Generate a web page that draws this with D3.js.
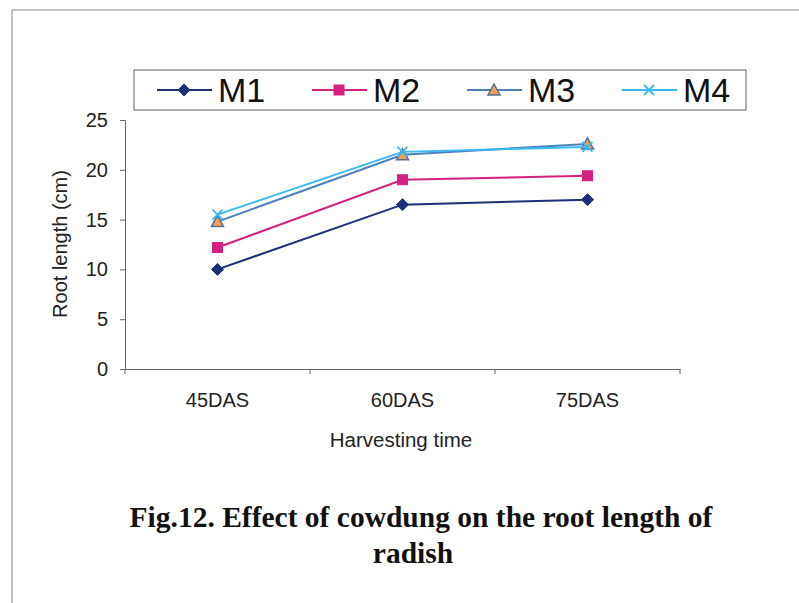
<!DOCTYPE html>
<html><head><meta charset="utf-8">
<script src="https://cdn.jsdelivr.net/npm/d3@7"></script>
<style>body{margin:0;background:#fff}svg{display:block}</style>
</head><body>
<svg id="c" width="799" height="603"></svg>
<script>
const categories = ["45DAS", "60DAS", "75DAS"];
const seriesNames = ["M1", "M2", "M3", "M4"];
const M1 = [10.0, 16.5, 17.0];
const M2 = [12.2, 19.0, 19.4];
const M3 = [14.8, 21.5, 22.6];
const M4 = [15.5, 21.8, 22.3];
const yTicks = [0, 5, 10, 15, 20, 25];

const values = [M1, M2, M3, M4];
const lineColors = ["#1c2f78", "#d4217f", "#4a7fc0", "#39b9f0"];
const markers = ["diamond", "square", "triangle", "cross"];

const svg = d3.select("#c");
// outer frame
svg.append("rect").attr("x", 12).attr("y", 10).attr("width", 800).attr("height", 620)
  .attr("fill", "none").attr("stroke", "#9a9a9a").attr("stroke-width", 1.2);

const x = d3.scaleBand().domain(categories).range([125, 680]).padding(0);
const y = d3.scaleLinear().domain([0, 25]).range([369, 120]);

const font = "Liberation Sans, Arial, sans-serif";

// y axis
const yAxis = svg.append("g").attr("transform", "translate(125,0)")
  .call(d3.axisLeft(y).tickValues(yTicks).tickSize(5).tickPadding(12));
yAxis.select(".domain").attr("stroke", "#666");
yAxis.selectAll(".tick line").attr("stroke", "#666");
yAxis.selectAll("text").attr("font-family", font).attr("font-size", 20).attr("fill", "#222");

// x axis
const xAxis = svg.append("g").attr("transform", "translate(0,369)")
  .call(d3.axisBottom(x).tickSize(0).tickPadding(24).tickSizeOuter(0));
xAxis.select(".domain").attr("stroke", "#666");
xAxis.selectAll("text").attr("font-family", font).attr("font-size", 20).attr("fill", "#222");
// tick marks at band boundaries
const bounds = categories.map(c => x(c)).concat([x.range()[1]]);
svg.append("g").selectAll("line").data(bounds).join("line")
  .attr("x1", d => d).attr("x2", d => d).attr("y1", 369).attr("y2", 374)
  .attr("stroke", "#666");

// axis titles
svg.append("text").attr("x", 401).attr("y", 447).attr("text-anchor", "middle")
  .attr("font-family", font).attr("font-size", 20.5).attr("fill", "#222").text("Harvesting time");
svg.append("text").attr("transform", "translate(67,244) rotate(-90)").attr("text-anchor", "middle")
  .attr("font-family", font).attr("font-size", 20).attr("fill", "#222").text("Root length (cm)");

function drawMarker(g, type, cx, cy, color) {
  if (type === "diamond") {
    g.append("path").attr("d", `M${cx},${cy-6}L${cx+6},${cy}L${cx},${cy+6}L${cx-6},${cy}Z`)
      .attr("fill", color).attr("stroke", color);
  } else if (type === "square") {
    g.append("rect").attr("x", cx-5).attr("y", cy-5).attr("width", 10).attr("height", 10)
      .attr("fill", color).attr("stroke", color);
  } else if (type === "triangle") {
    g.append("path").attr("d", `M${cx},${cy-6}L${cx+6},${cy+5}L${cx-6},${cy+5}Z`)
      .attr("fill", "#f6a04d").attr("stroke", "#556f99").attr("stroke-width", 1.5);
  } else {
    g.append("path").attr("d", `M${cx-5},${cy-5}L${cx+5},${cy+5}M${cx-5},${cy+5}L${cx+5},${cy-5}`)
      .attr("stroke", color).attr("stroke-width", 1.8);
  }
}

const line = d3.line().x((d, i) => x(categories[i]) + x.bandwidth() / 2).y(d => y(d));
values.forEach((vals, si) => {
  const g = svg.append("g");
  g.append("path").attr("d", line(vals)).attr("fill", "none")
    .attr("stroke", lineColors[si]).attr("stroke-width", 2);
  vals.forEach((v, i) => drawMarker(g, markers[si], x(categories[i]) + x.bandwidth() / 2, y(v), lineColors[si]));
});

// legend
svg.append("rect").attr("x", 134).attr("y", 70).attr("width", 612).attr("height", 40)
  .attr("fill", "#fff").attr("stroke", "#777").attr("stroke-width", 1.2);
const legendX = [157, 312, 467, 622];
seriesNames.forEach((n, i) => {
  const g = svg.append("g");
  const lx = legendX[i];
  g.append("line").attr("x1", lx).attr("x2", lx + 55).attr("y1", 90).attr("y2", 90)
    .attr("stroke", lineColors[i]).attr("stroke-width", 2);
  drawMarker(g, markers[i], lx + 27, 90, lineColors[i]);
  g.append("text").attr("x", lx + 61).attr("y", 102).attr("font-family", font)
    .attr("font-size", 34).attr("fill", "#111").text(n);
});

// caption
const capFont = "Liberation Serif, Times New Roman, serif";
svg.append("text").attr("x", 421).attr("y", 527).attr("text-anchor", "middle")
  .attr("font-family", capFont).attr("font-weight", "bold").attr("font-size", 29.5).attr("fill", "#111")
  .text("Fig.12. Effect of cowdung on the root length of");
svg.append("text").attr("x", 413).attr("y", 563).attr("text-anchor", "middle")
  .attr("font-family", capFont).attr("font-weight", "bold").attr("font-size", 29.5).attr("fill", "#111")
  .text("radish");
</script>
</body></html>
